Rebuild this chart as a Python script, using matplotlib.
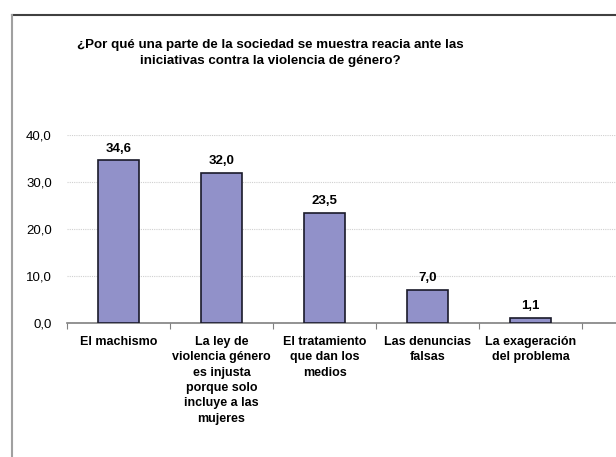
import matplotlib
matplotlib.use("Agg")
from matplotlib import pyplot as plt
from matplotlib.lines import Line2D
import numpy as np

plt.rcParams['font.family'] = ['Liberation Sans', 'DejaVu Sans']

categories = [
    "El machismo",
    "La ley de\nviolencia género\nes injusta\nporque solo\nincluye a las\nmujeres",
    "El tratamiento\nque dan los\nmedios",
    "Las denuncias\nfalsas",
    "La exageración\ndel problema",
]
values = [34.6, 32.0, 23.5, 7.0, 1.1]
yticks = [0, 10, 20, 30, 40]
title = ("¿Por qué una parte de la sociedad se muestra reacia ante las\n"
         "iniciativas contra la violencia de género?")

fig = plt.figure(figsize=(6.16, 4.57), dpi=100)
ax = fig.add_axes([0.1088, 0.2932, 0.8912, 0.4114])

x = np.arange(len(values))
ax.bar(x, values, width=0.4, color='#9191c9', edgecolor='#1a1a2a', linewidth=1.2, zorder=3)

for xi, v in zip(x, values):
    ax.text(xi, v + 1.2, f"{v:.1f}".replace('.', ','), ha='center', va='bottom',
            fontsize=9.5, fontweight='bold')

ax.set_xlim(-0.5, 4.83)
ax.set_ylim(0, 40)
ax.set_yticks(yticks)
ax.set_yticklabels([f"{t:.1f}".replace('.', ',') for t in yticks], fontsize=9.5)
ax.tick_params(axis='y', length=0, pad=11)
ax.yaxis.grid(True, color='#d0d0d0', linestyle=(0, (1, 1)), linewidth=0.8, zorder=0)

# category boundaries as ticks, labels at centres
ax.set_xticks(np.arange(-0.5, 5, 1.0))
ax.set_xticklabels([])
ax.tick_params(axis='x', direction='out', length=4, color='#808080')
for xi, lab in zip(x, categories):
    ax.text(xi, -2.7, lab, ha='center', va='top', fontsize=9, fontweight='bold',
            linespacing=1.38)

for s in ['top', 'right', 'left']:
    ax.spines[s].set_visible(False)
ax.spines['bottom'].set_color('#808080')
ax.spines['bottom'].set_linewidth(1.2)

fig.text(270 / 616, 1 - 39 / 457, title, ha='center', va='top', fontsize=9.6,
         fontweight='bold', linespacing=1.4)

# outer chart frame (cropped)
fig.add_artist(Line2D([12 / 616, 1], [1 - 15 / 457] * 2, color='#404040', linewidth=1.5))
fig.add_artist(Line2D([12 / 616] * 2, [0, 1 - 15 / 457], color='#a0a0a0', linewidth=1.5))

fig.savefig("out.png", dpi=100)
